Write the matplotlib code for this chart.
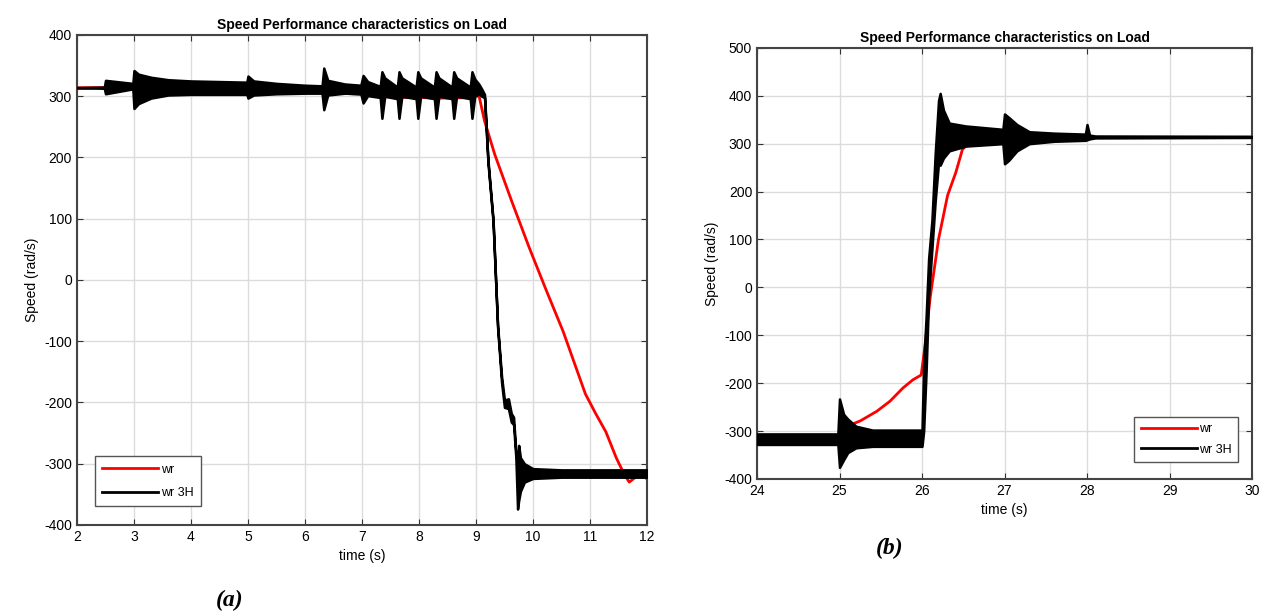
import matplotlib
matplotlib.use('Agg')
import matplotlib.pyplot as plt

plt.rcParams['font.family'] = ['Liberation Sans', 'DejaVu Sans']
plt.rcParams['axes.unicode_minus'] = False


##(a) 2-12 s
ta_red = [2.0, 2.5, 3.0, 3.5, 4.0, 5.0, 6.0, 6.3, 7.0, 7.3, 7.6, 8.0, 8.3, 8.6, 8.9,
          9.0, 9.06, 9.15, 9.33, 9.63, 9.93, 10.23, 10.53, 10.92, 11.1,
          11.28, 11.46, 11.6, 11.69, 11.8, 11.92, 12.0]
wa_red = [314, 314, 313, 311, 310, 309, 308, 307, 303, 300, 298, 298, 297, 297, 298,
          303, 298, 260, 205, 128, 54, -16, -84, -186, -218,
          -248, -290, -317, -330, -322, -317, -325]

ta_blk = [2.0, 2.48, 2.5, 2.98, 3.0, 3.08, 3.3, 3.6, 4.0, 4.5, 4.98, 5.0, 5.1, 5.5,
          6.0, 6.3, 6.33, 6.4, 6.7, 6.98, 7.02, 7.1, 7.32, 7.35, 7.4, 7.62, 7.65,
          7.7, 7.95, 7.98, 8.03, 8.27, 8.30, 8.35, 8.58, 8.61, 8.66, 8.9, 8.93,
          8.98, 9.05, 9.1, 9.15, 9.21, 9.3, 9.33, 9.38, 9.45, 9.5, 9.57, 9.62,
          9.66, 9.7, 9.73, 9.75, 9.78, 9.85, 10.0, 10.5, 12.0]
wa_hi = [314, 315, 326, 321, 342, 336, 331, 327, 325, 324, 323, 333, 325, 321,
         318, 317, 346, 326, 320, 318, 334, 324, 316, 340, 330, 315, 340,
         330, 315, 340, 330, 315, 340, 330, 315, 340, 330, 315, 340,
         328, 320, 312, 303, 197, 99, 34, -74, -158, -196, -194, -218,
         -224, -280, -300, -270, -290, -300, -308, -310, -310]
wa_lo = [314, 313, 304, 312, 280, 288, 297, 302, 303, 303, 303, 297, 302, 304,
         305, 305, 278, 302, 305, 304, 289, 301, 298, 264, 300, 296, 264,
         300, 296, 264, 300, 296, 264, 300, 296, 264, 300, 296, 264,
         300, 304, 300, 298, 192, 95, 30, -78, -168, -208, -210, -232,
         -236, -290, -374, -360, -345, -330, -324, -322, -322]


##(b) 24-30 s
tb_red = [24.0, 24.15, 24.22, 24.3, 24.5, 24.59, 24.68, 24.85, 24.93, 25.0, 25.05,
          25.09, 25.25, 25.45, 25.61, 25.77, 25.89, 25.99, 26.03, 26.1, 26.2,
          26.31, 26.41, 26.49, 26.55, 26.65, 27.0, 30.0]
wb_red = [-318, -320, -326, -318, -318, -326, -318, -318, -327, -322, -300,
          -290, -279, -259, -238, -210, -193, -183, -131, -20, 100,
          192, 240, 288, 298, 310, 313, 314]

tb_blk = [24.0, 24.98, 25.0, 25.05, 25.1, 25.2, 25.4, 26.0, 26.02, 26.05, 26.08,
          26.12, 26.16, 26.2, 26.22, 26.26, 26.33, 26.53, 26.98, 27.0, 27.05,
          27.15, 27.3, 27.6, 27.98, 28.0, 28.03, 28.1, 30.0]
wb_hi = [-306, -306, -233, -265, -275, -290, -298, -298, -160, -60, 60,
         140, 280, 390, 405, 370, 343, 337, 330, 362, 355,
         340, 325, 322, 320, 340, 318, 316, 315]
wb_lo = [-328, -328, -376, -360, -345, -335, -332, -332, -300, -175, -20,
         80, 180, 260, 255, 270, 285, 295, 300, 258, 265,
         285, 300, 305, 307, 308, 310, 312, 313]


fig = plt.figure(figsize=(12.68, 6.14), dpi=100)
ax1 = fig.add_axes([0.0607, 0.145, 0.4495, 0.798])
ax2 = fig.add_axes([0.597, 0.22, 0.3904, 0.702])


def style(ax, xlim, ylim, yticks):
    ax.set_xlim(xlim)
    ax.set_ylim(ylim)
    ax.set_yticks(yticks)
    ax.grid(True, color='#dcdcdc', linewidth=1)
    ax.set_axisbelow(True)
    ax.tick_params(direction='in', top=True, right=True, labelsize=10,
                   color='#333333', length=4)
    for s in ax.spines.values():
        s.set_color('#444444')
        s.set_linewidth(1.5)
    ax.set_title('Speed Performance characteristics on Load',
                 fontsize=10, fontweight='bold', pad=4)
    ax.set_xlabel('time (s)', fontsize=10)
    ax.set_ylabel('Speed (rad/s)', fontsize=10)


ax1.plot(ta_red, wa_red, color='red', lw=2, zorder=2, label='wr')
ax1.fill_between(ta_blk, wa_lo, wa_hi, color='black', lw=1.8, zorder=3)
ax1.plot([], [], color='black', lw=2, label='wr 3H')
style(ax1, (2, 12), (-400, 400), range(-400, 401, 100))
ax1.set_xticks(range(2, 13))
ax1.legend(loc='lower left', bbox_to_anchor=(0.02, 0.025), fontsize=9,
           handlelength=4.5, fancybox=False, edgecolor='#555555',
           framealpha=1, borderpad=0.6, labelspacing=0.9, handletextpad=0.2)

ax2.plot(tb_red, wb_red, color='red', lw=2, zorder=2, label='wr')
ax2.fill_between(tb_blk, wb_lo, wb_hi, color='black', lw=1.8, zorder=3)
ax2.plot([], [], color='black', lw=2, label='wr 3H')
style(ax2, (24, 30), (-400, 500), range(-400, 501, 100))
ax2.set_xticks(range(24, 31))
ax2.legend(loc='lower right', bbox_to_anchor=(0.985, 0.025), fontsize=9,
           handlelength=4.5, fancybox=False, edgecolor='#555555',
           framealpha=1, borderpad=0.5, labelspacing=0.7, handletextpad=0.2)

fig.text(230 / 1268, 1 - 600 / 614, '(a)', fontsize=17, fontweight='bold',
         fontstyle='italic', family='Liberation Serif', ha='center', va='center')
fig.text(890 / 1268, 1 - 548 / 614, '(b)', fontsize=17, fontweight='bold',
         fontstyle='italic', family='Liberation Serif', ha='center', va='center')

fig.savefig('out.png', dpi=100)
